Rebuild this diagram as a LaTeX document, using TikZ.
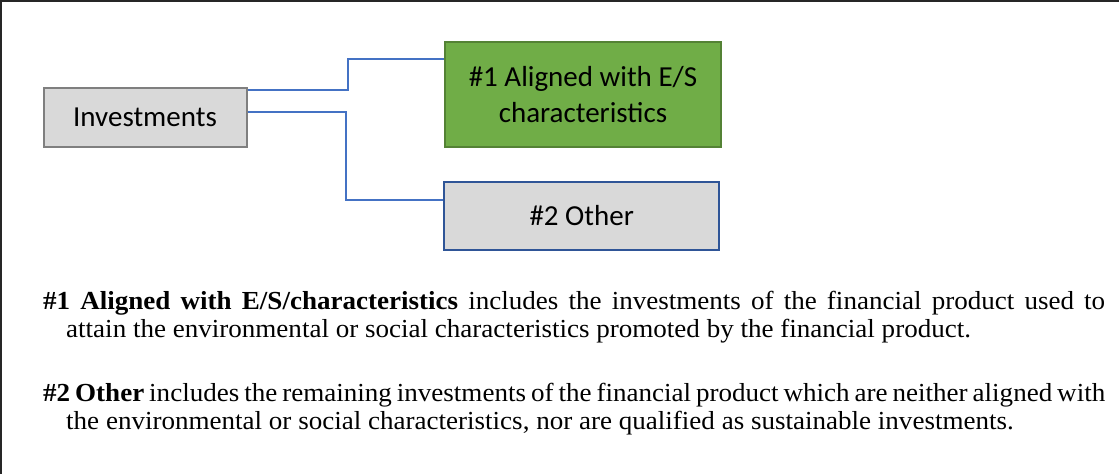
\documentclass[tikz,border=0pt]{standalone}
\usepackage{fontspec}
\setmainfont{Liberation Serif}
\newfontfamily\parafont[FakeStretch=1.04]{Liberation Serif}
\newfontfamily\boxfont{Carlito}
\definecolor{frameC}{HTML}{262626}
\definecolor{grayfill}{HTML}{D9D9D9}
\definecolor{grayline}{HTML}{7F7F7F}
\definecolor{greenfill}{HTML}{70AD47}
\definecolor{greenline}{HTML}{548235}
\definecolor{blueline}{HTML}{2F5597}
\definecolor{connC}{HTML}{4472C4}
\tikzset{
  boxbase/.style={inner sep=0pt, line width=2pt, font=\boxfont\fontsize{29}{36}\selectfont, align=center},
  invbox/.style={boxbase, draw=grayline, fill=grayfill},
  greenbox/.style={boxbase, draw=greenline, fill=greenfill},
  otherbox/.style={boxbase, draw=blueline, fill=grayfill},
  conn/.style={draw=connC, line width=2pt},
  para/.style={inner sep=0pt, anchor=base west, text width=1062pt, align=justify, font=\parafont\fontsize{26}{28}\selectfont},
  frameline/.style={draw=frameC, line width=2.5pt}
}
\begin{document}
\begin{tikzpicture}[x=1pt,y=-1pt]
\useasboundingbox (0,0) rectangle (1119,474);
\draw[frameline] (0,1) -- (1119,1);
\draw[frameline] (1,0) -- (1,474);
\node[invbox, minimum width=203pt, minimum height=59pt] (inv) at (145,117) {Investments};
\node[greenbox, minimum width=276pt, minimum height=105pt] (green) at (583,94.7) {\#1 Aligned with E/S\\characteristics};
\node[otherbox, minimum width=275pt, minimum height=68pt] (other) at (581.7,215.5) {\#2 Other};
\draw[conn] ([yshift=-3pt]inv.north east) -- ++(100,0) |- ([yshift=-18pt]green.north west);
\draw[conn] ([yshift=5.5pt]inv.east) -- ++(98,0) |- ([yshift=-19.6pt]other.north west);
\node[para] (p1) at (43,309) {\hangindent=23pt\hangafter=1 \textbf{\#1 Aligned with E/S/characteristics} includes the investments of the financial product used to\linebreak attain the environmental or social characteristics promoted by the financial product.\par};
\node[para] (p2) at (43,401) {\hangindent=23pt\hangafter=1 \textbf{\#2 Other} includes the remaining investments of the financial product which are neither aligned with\linebreak the environmental or social characteristics, nor are qualified as sustainable investments.\par};
\end{tikzpicture}
\end{document}
